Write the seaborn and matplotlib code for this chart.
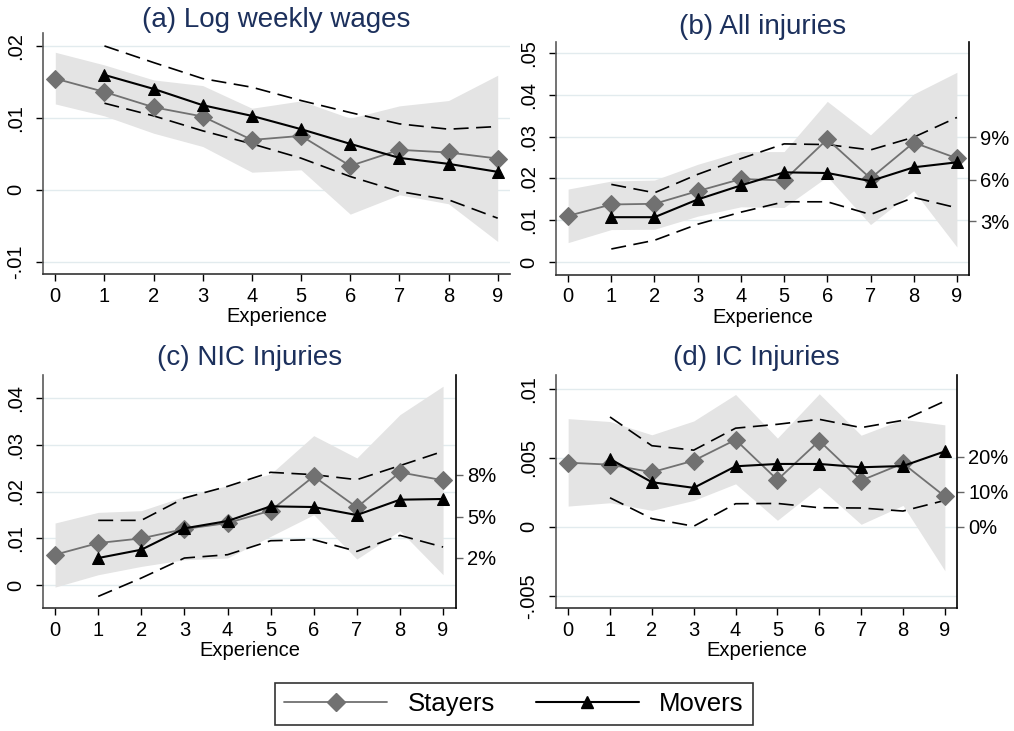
import matplotlib
matplotlib.use("Agg")
import matplotlib.pyplot as plt
from matplotlib.lines import Line2D
import seaborn as sns

# ---- data ---------------------------------------------------------------
experience = [0, 1, 2, 3, 4, 5, 6, 7, 8, 9]
movers_exp = [1, 2, 3, 4, 5, 6, 7, 8, 9]

# (a) Log weekly wages
wage_stayers = [0.01546, 0.01361, 0.01148, 0.01019, 0.00694, 0.0075, 0.00333, 0.00556, 0.00519, 0.00435]
wage_stayers_hi = [0.01912, 0.01736, 0.01528, 0.01449, 0.01134, 0.01236, 0.00995, 0.01167, 0.01241, 0.01593]
wage_stayers_lo = [0.01194, 0.01028, 0.00787, 0.00602, 0.00245, 0.00278, -0.00338, -0.00069, -0.00194, -0.00718]
wage_movers = [0.01597, 0.01403, 0.01176, 0.01028, 0.00843, 0.00639, 0.00444, 0.00361, 0.0025]
wage_movers_hi = [0.0200, 0.01769, 0.01546, 0.01426, 0.01241, 0.01074, 0.00917, 0.00843, 0.0088]
wage_movers_lo = [0.01204, 0.01028, 0.0082, 0.00639, 0.0044, 0.00185, -0.00023, -0.00139, -0.00394]

# (b) All injuries
all_stayers = [0.01104, 0.01376, 0.01392, 0.01696, 0.01984, 0.01952, 0.02936, 0.0200, 0.02856, 0.0248]
all_stayers_hi = [0.01744, 0.01936, 0.0196, 0.02336, 0.0264, 0.0264, 0.0384, 0.0304, 0.04016, 0.04536]
all_stayers_lo = [0.00464, 0.00776, 0.00784, 0.01096, 0.0132, 0.01304, 0.0204, 0.00896, 0.01704, 0.0036]
all_movers = [0.01072, 0.01072, 0.01496, 0.01832, 0.02144, 0.02128, 0.01936, 0.02264, 0.02384]
all_movers_hi = [0.01856, 0.01656, 0.02096, 0.02472, 0.02824, 0.02808, 0.0268, 0.02984, 0.03456]
all_movers_lo = [0.00312, 0.0052, 0.00904, 0.01192, 0.0144, 0.0144, 0.01136, 0.01544, 0.01296]

# (c) NIC injuries
nic_stayers = [0.00649, 0.00898, 0.00998, 0.01198, 0.01326, 0.0159, 0.02324, 0.01661, 0.0241, 0.02239]
nic_stayers_hi = [0.01326, 0.01554, 0.0159, 0.01897, 0.02125, 0.02374, 0.03194, 0.02717, 0.03643, 0.0425]
nic_stayers_lo = [-0.00043, 0.00221, 0.00399, 0.00542, 0.00578, 0.01041, 0.01504, 0.00556, 0.01162, 0.00221]
nic_movers = [0.00578, 0.00756, 0.01212, 0.01369, 0.01683, 0.01668, 0.01497, 0.01825, 0.0184]
nic_movers_hi = [0.01383, 0.01383, 0.01861, 0.0211, 0.0241, 0.0236, 0.02253, 0.02553, 0.02859]
nic_movers_lo = [-0.00242, 0.0015, 0.00578, 0.00649, 0.00948, 0.0097, 0.0072, 0.01062, 0.00813]

# (d) IC injuries
ic_stayers = [0.00465, 0.00451, 0.00396, 0.0048, 0.00631, 0.00341, 0.00624, 0.00336, 0.0046, 0.00221]
ic_stayers_hi = [0.00784, 0.00763, 0.00667, 0.00767, 0.00959, 0.00643, 0.00964, 0.00664, 0.00779, 0.00739]
ic_stayers_lo = [0.00151, 0.00175, 0.0012, 0.00192, 0.00312, 0.00048, 0.00288, 0.00019, 0.00156, -0.00317]
ic_movers = [0.00492, 0.00324, 0.00283, 0.00439, 0.00456, 0.00456, 0.00432, 0.00441, 0.00547]
ic_movers_hi = [0.00796, 0.00588, 0.00556, 0.00715, 0.00743, 0.00779, 0.00719, 0.00772, 0.00911]
ic_movers_lo = [0.00211, 0.0006, 0.00005, 0.00168, 0.0017, 0.00139, 0.00137, 0.00115, 0.00192]

# tick labels
wage_yticks = [-0.01, 0, 0.01, 0.02]
wage_ylabels = ["-.01", "0", ".01", ".02"]
all_yticks = [0, 0.01, 0.02, 0.03, 0.04, 0.05]
all_ylabels = ["0", ".01", ".02", ".03", ".04", ".05"]
all_rticks = [0.0098, 0.0197, 0.0298]
all_rlabels = ["3%", "6%", "9%"]
nic_yticks = [0, 0.01, 0.02, 0.03, 0.04]
nic_ylabels = ["0", ".01", ".02", ".03", ".04"]
nic_rticks = [0.0058, 0.01455, 0.0236]
nic_rlabels = ["2%", "5%", "8%"]
ic_yticks = [-0.005, 0, 0.005, 0.01]
ic_ylabels = ["-.005", "0", ".005", ".01"]
ic_rticks = [0.0, 0.00254, 0.00508]
ic_rlabels = ["0%", "10%", "20%"]

W, H = 1014, 731
STAYER = "#717171"
SHADE = "#e4e4e4"
GRID = "#e2ebee"
TITLE = "#1c305c"
DASH = (0, (9, 4.5))

sns.set_style("white")
plt.rcParams["font.family"] = ["Liberation Sans", "DejaVu Sans"]
plt.rcParams["text.color"] = "black"
plt.rcParams["axes.labelcolor"] = "black"
plt.rcParams["xtick.color"] = "black"
plt.rcParams["ytick.color"] = "black"

fig = plt.figure(figsize=(W / 100, H / 100), dpi=100)


def px_axes(left, top, right, bottom):
    return fig.add_axes([left / W, 1 - bottom / H, (right - left) / W, (bottom - top) / H])


def panel(ax, title, pad, st, st_hi, st_lo, mv, mv_hi, mv_lo,
          yticks, ylabels, xlim, ylim, rticks=None, rlabels=None):
    ax.set_xlim(*xlim)
    ax.set_ylim(*ylim)
    for t in yticks:
        ax.axhline(t, color=GRID, lw=1.0, zorder=0)
    ax.fill_between(experience, st_lo, st_hi, color=SHADE, lw=0, zorder=1)
    sns.lineplot(x=movers_exp, y=mv_hi, ax=ax, color="black", lw=1.2,
                 linestyle=DASH, zorder=2)
    sns.lineplot(x=movers_exp, y=mv_lo, ax=ax, color="black", lw=1.2,
                 linestyle=DASH, zorder=2)
    sns.lineplot(x=experience, y=st, ax=ax, color=STAYER, lw=1.3, marker="D",
                 markersize=9, markeredgecolor=STAYER, markerfacecolor=STAYER,
                 zorder=3)
    sns.lineplot(x=movers_exp, y=mv, ax=ax, color="black", lw=1.5, marker="^",
                 markersize=9, markeredgecolor="black", markerfacecolor="black",
                 zorder=4)
    ax.set_xticks(experience)
    ax.set_yticks(yticks)
    ax.set_yticklabels(ylabels, rotation=90, va="center", ha="right")
    ax.set_xlabel("Experience", fontsize=14.5, labelpad=1)
    ax.set_ylabel("")
    ax.set_title(title, fontsize=20, color=TITLE, pad=pad)
    ax.tick_params(axis="both", labelsize=14.5, direction="out", length=5,
                   width=1, color="black", left=True, bottom=True)
    ax.tick_params(axis="y", pad=8)
    ax.tick_params(axis="x", pad=4)
    ax.spines["top"].set_visible(False)
    ax.spines["right"].set_visible(False)
    ax.spines["left"].set_color("#5a5a5a")
    ax.spines["bottom"].set_color("#333333")
    for s in ("left", "bottom"):
        ax.spines[s].set_linewidth(1.2)
    if rticks is not None:
        ax2 = ax.twinx()
        ax2.set_ylim(*ylim)
        ax2.set_yticks(rticks)
        ax2.set_yticklabels(rlabels)
        ax2.tick_params(axis="y", labelsize=14.5, direction="out", length=5,
                        width=1, color="#666666", labelcolor="black",
                        right=True, pad=3)
        for s in ("top", "left", "bottom"):
            ax2.spines[s].set_visible(False)
        ax2.spines["right"].set_color("black")
        ax2.spines["right"].set_linewidth(1.2)


ax_a = px_axes(43, 33, 510, 274)
panel(ax_a, "(a) Log weekly wages", 4, wage_stayers, wage_stayers_hi, wage_stayers_lo,
      wage_movers, wage_movers_hi, wage_movers_lo, wage_yticks, wage_ylabels,
      (-0.25, 9.25), (-0.0117, 0.0218))

ax_b = px_axes(556, 42, 969, 275)
panel(ax_b, "(b) All injuries", 6, all_stayers, all_stayers_hi, all_stayers_lo,
      all_movers, all_movers_hi, all_movers_lo, all_yticks, all_ylabels,
      (-0.28, 9.28), (-0.0031, 0.0526), all_rticks, all_rlabels)

ax_c = px_axes(43, 375, 456, 608)
panel(ax_c, "(c) NIC Injuries", 7, nic_stayers, nic_stayers_hi, nic_stayers_lo,
      nic_movers, nic_movers_hi, nic_movers_lo, nic_yticks, nic_ylabels,
      (-0.28, 9.3), (-0.0049, 0.0449), nic_rticks, nic_rlabels)

ax_d = px_axes(556, 375, 957, 608)
panel(ax_d, "(d) IC Injuries", 7, ic_stayers, ic_stayers_hi, ic_stayers_lo,
      ic_movers, ic_movers_hi, ic_movers_lo, ic_yticks, ic_ylabels,
      (-0.29, 9.29), (-0.00587, 0.011), ic_rticks, ic_rlabels)

handles = [
    Line2D([], [], color=STAYER, lw=1.3, marker="D", markersize=9,
           markerfacecolor=STAYER, markeredgecolor=STAYER),
    Line2D([], [], color="black", lw=1.5, marker="^", markersize=9,
           markerfacecolor="black", markeredgecolor="black"),
]
leg = fig.legend(handles, ["Stayers", "Movers"], loc="center",
                 bbox_to_anchor=(514 / W, 1 - 704 / H), ncol=2, fontsize=18.5,
                 frameon=True, fancybox=False, edgecolor="black",
                 handlelength=4.0, handletextpad=0.8, columnspacing=1.6,
                 borderpad=0.35)
leg.get_frame().set_linewidth(1.2)

fig.savefig("out.png", dpi=100, facecolor="white")
